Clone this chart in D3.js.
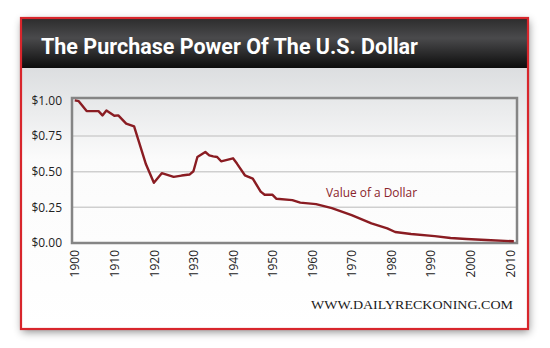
<!DOCTYPE html>
<html><head><meta charset="utf-8">
<script src="https://cdn.jsdelivr.net/npm/d3@7"></script>
<style>html,body{margin:0;padding:0;background:#fff;overflow:hidden}</style>
</head><body>
<script>
const title = "The Purchase Power Of The U.S. Dollar";
const seriesName = "Value of a Dollar";
const source = "WWW.DAILYRECKONING.COM";
const years = [1900,1901,1903,1906,1907,1908,1910,1911,1913,1915,1918,1920,1922,1925,1927,1929,1930,1931,1933,1934,1935,1936,1937,1940,1941,1943,1945,1947,1948,1950,1951,1955,1957,1961,1965,1970,1975,1979,1981,1985,1991,1995,1999,2004,2011];
const values = [1.00,0.995,0.925,0.925,0.895,0.93,0.893,0.895,0.837,0.818,0.552,0.422,0.49,0.464,0.473,0.48,0.503,0.603,0.638,0.615,0.608,0.603,0.573,0.594,0.557,0.475,0.452,0.36,0.338,0.338,0.31,0.301,0.283,0.273,0.245,0.195,0.138,0.103,0.077,0.063,0.048,0.035,0.028,0.021,0.012];
const yTicks = [0, 0.25, 0.5, 0.75, 1.0];
const xTicks = [1900,1910,1920,1930,1940,1950,1960,1970,1980,1990,2000,2010];

const W = 550, H = 348;
const svg = d3.select("body").append("svg").attr("width", W).attr("height", H);
const defs = svg.append("defs");
const hg = defs.append("linearGradient").attr("id","hg").attr("x1",0).attr("y1",0).attr("x2",0).attr("y2",1);
hg.append("stop").attr("offset","0%").attr("stop-color","#2c2c2c");
hg.append("stop").attr("offset","40%").attr("stop-color","#4a4a4c");
hg.append("stop").attr("offset","100%").attr("stop-color","#0c0c0c");
const bg = defs.append("linearGradient").attr("id","bg").attr("x1",0).attr("y1",0).attr("x2",0).attr("y2",1);
bg.append("stop").attr("offset","0%").attr("stop-color","#dcdee0");
bg.append("stop").attr("offset","35%").attr("stop-color","#fbfbfb");
bg.append("stop").attr("offset","100%").attr("stop-color","#ffffff");
const f = defs.append("filter").attr("id","sh").attr("x","-10%").attr("y","-10%").attr("width","120%").attr("height","120%");
f.append("feDropShadow").attr("dx",1).attr("dy",3).attr("stdDeviation",4).attr("flood-color","#000").attr("flood-opacity",0.45);

// box
const bx = 21, by = 18, bw = 507, bh = 311, hh = 50;
svg.append("rect").attr("x",bx).attr("y",by).attr("width",bw).attr("height",bh).attr("fill","#fff").attr("filter","url(#sh)");
svg.append("rect").attr("x",bx).attr("y",by+hh).attr("width",bw).attr("height",bh-hh).attr("fill","url(#bg)");
svg.append("rect").attr("x",bx).attr("y",by).attr("width",bw).attr("height",hh).attr("fill","url(#hg)");
svg.append("rect").attr("x",bx).attr("y",by).attr("width",bw).attr("height",bh).attr("fill","none").attr("stroke","#d8262c").attr("stroke-width",2.2);

svg.append("text").attr("x",41).attr("y",53.5).text(title)
  .attr("fill","#fff").attr("font-family","Roboto, 'Liberation Sans', sans-serif").attr("font-weight","bold")
  .attr("font-size",21.5).attr("textLength",377).attr("lengthAdjust","spacingAndGlyphs");

// plot
const pl = 72, pr = 517, pt = 98, pb = 243;
const x = d3.scaleLinear().domain([1899.3, 2011.8]).range([pl, pr]);
const y = d3.scaleLinear().domain([0, 1.017]).range([pb, pt]);

const grid = svg.append("g");
grid.selectAll("line").data(yTicks.filter(d => d > 0 && d < 1)).join("line")
  .attr("x1",pl).attr("x2",pr).attr("y1",d=>y(d)).attr("y2",d=>y(d))
  .attr("stroke","#cfcfcf").attr("stroke-width",1.5);

const yAxis = svg.append("g").attr("transform",`translate(${pl},0)`)
  .call(d3.axisLeft(y).tickValues(yTicks).tickSize(0).tickPadding(10).tickFormat(d => "$" + d3.format(".2f")(d)));
yAxis.select(".domain").remove();
yAxis.selectAll("text").attr("font-family","'Open Sans', sans-serif").attr("font-size",12).attr("fill","#222");

const xAxis = svg.append("g").attr("transform",`translate(0,${pb})`)
  .call(d3.axisBottom(x).tickValues(xTicks).tickSize(0).tickFormat(d3.format("d")));
xAxis.select(".domain").remove();
xAxis.selectAll("text").attr("font-family","'Open Sans', sans-serif").attr("font-size",12).attr("fill","#222")
  .attr("transform","rotate(-90)").attr("text-anchor","end").attr("dy","0.35em").attr("x",-7).attr("y",0);

svg.append("rect").attr("x",pl).attr("y",pt).attr("width",pr-pl).attr("height",pb-pt)
  .attr("fill","none").attr("stroke","#858585").attr("stroke-width",2.5);

const data = years.map((yr,i)=>({yr, v: values[i]}));
svg.append("path").datum(data)
  .attr("d", d3.line().x(d=>x(d.yr)).y(d=>y(d.v)))
  .attr("fill","none").attr("stroke","#8a1c22").attr("stroke-width",2.4).attr("stroke-linejoin","round");

svg.append("text").attr("x",326).attr("y",197.3).text(seriesName)
  .attr("fill","#8a242b").attr("font-family","'Open Sans', sans-serif").attr("font-size",12.5)
  .attr("textLength",91).attr("lengthAdjust","spacingAndGlyphs");

svg.append("text").attr("x",311).attr("y",309.3).text(source)
  .attr("fill","#1a1a1a").attr("font-family","'Liberation Serif', serif").attr("font-size",12)
  .attr("textLength",202).attr("lengthAdjust","spacingAndGlyphs");
</script>
</body></html>
